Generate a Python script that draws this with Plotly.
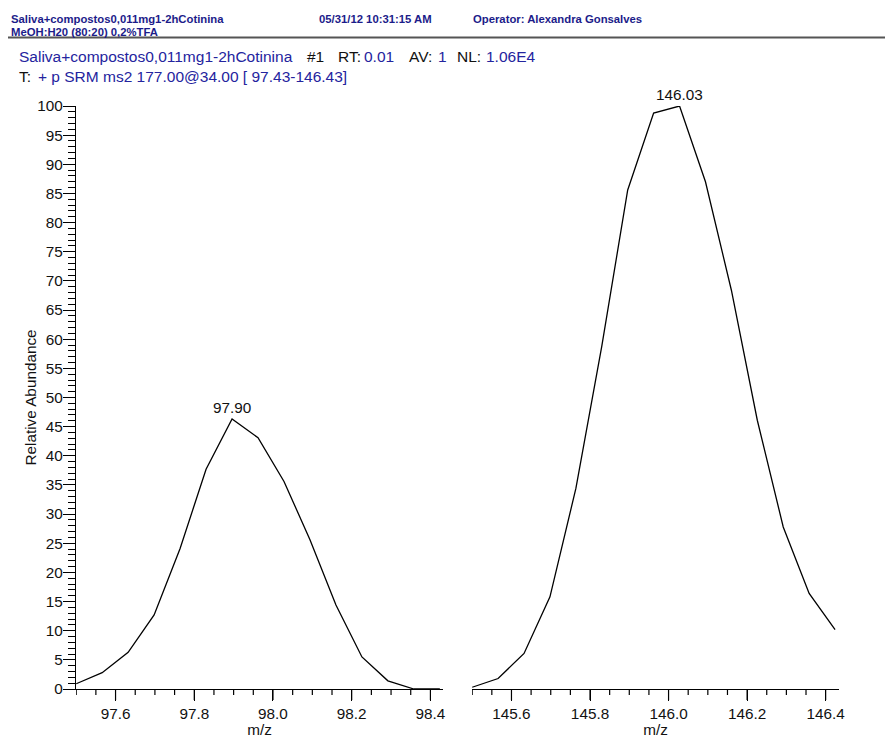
import math
import plotly.graph_objects as go

# Spectrum segment around m/z 97.9
mz_low = [97.500, 97.566, 97.632, 97.698, 97.764, 97.830, 97.896, 97.962,
          98.028, 98.094, 98.160, 98.226, 98.292, 98.358, 98.424]
ab_low = [0.9, 2.8, 6.3, 12.7, 24.1, 37.7, 46.3, 43.1,
          35.6, 25.6, 14.4, 5.5, 1.4, 0.0, 0.0]

# Spectrum segment around m/z 146.0
mz_high = [145.500, 145.566, 145.632, 145.698, 145.764, 145.830, 145.896, 145.962,
           146.028, 146.094, 146.160, 146.226, 146.292, 146.358, 146.424]
ab_high = [0.3, 1.8, 6.1, 15.8, 34.4, 58.8, 85.6, 98.8,
           100.0, 87.0, 68.4, 46.1, 27.8, 16.4, 10.2]

x_range_low = [97.4995, 98.432]
x_range_high = [145.4995, 146.434]

FONT = "Liberation Sans, Arial, sans-serif"
BLUE = "#24249e"
HEAD_BLUE = "#1c1c8a"
INK = "#111111"

W, H = 885, 738
ML, MR, MT, MB = 76, 46, 106, 49
PW, PH = W - ML - MR, H - MT - MB
MAJOR_LEN, MINOR_LEN = 11, 6


def px(x):
    return (x - ML) / PW


def py(y):
    return (H - MB - y) / PH


fig = go.Figure()
fig.add_trace(go.Scatter(x=mz_low, y=ab_low, mode="lines",
                         line=dict(color="black", width=1.3),
                         xaxis="x", yaxis="y", showlegend=False))
fig.add_trace(go.Scatter(x=mz_high, y=ab_high, mode="lines",
                         line=dict(color="black", width=1.3),
                         xaxis="x2", yaxis="y2", showlegend=False))


def xaxis_style(rng, domain, anchor):
    return dict(domain=domain, range=rng, anchor=anchor, automargin=False,
                showgrid=False, zeroline=False, showline=True, linecolor="black",
                linewidth=1.2, ticks="outside", ticklen=MAJOR_LEN, tickwidth=1.2,
                tickcolor="black", dtick=0.2, tick0=0, tickformat=".1f",
                tickfont=dict(family=FONT, size=15.3, color=INK),
                title=dict(text="m/z", font=dict(family=FONT, size=15.3, color=INK),
                           standoff=5))


fig.update_layout(
    width=W, height=H,
    margin=dict(l=ML, r=MR, t=MT, b=MB, pad=0),
    paper_bgcolor="white", plot_bgcolor="white",
    xaxis=xaxis_style(x_range_low, [0, px(443)], "y"),
    xaxis2=xaxis_style(x_range_high, [px(472), 1], "y2"),
    yaxis=dict(domain=[0, 1], range=[0, 100], anchor="x", automargin=False,
               showgrid=False, zeroline=False, showline=True, linecolor="black",
               linewidth=1.2, ticks="outside", ticklen=12, tickwidth=1,
               tickcolor="black", dtick=5, tick0=0, ticklabelstandoff=-3,
               minor=dict(dtick=1, ticklen=7, ticks="outside",
                          tickcolor="black", tickwidth=1),
               tickfont=dict(family=FONT, size=15.3, color=INK)),
    yaxis2=dict(domain=[0, 1], range=[0, 100], anchor="x2", visible=False,
                automargin=False),
)

# Tick comb along each m/z axis: long marks every 0.2, short marks every 0.05
for xref, rng in (("x", x_range_low), ("x2", x_range_high)):
    for k in range(math.ceil(rng[0] / 0.05), math.floor(rng[1] / 0.05) + 1):
        length = MAJOR_LEN if k % 4 == 0 else MINOR_LEN
        v = round(k * 0.05, 3)
        fig.add_shape(type="line", xref=xref, yref="paper", x0=v, x1=v,
                      y0=0, y1=-length / PH, line=dict(color="black", width=1.2))

annotations = []

# Peak labels, taken from the apex of each segment
for xa, ya, mz, ab in (("x", "y", mz_low, ab_low), ("x2", "y2", mz_high, ab_high)):
    i = max(range(len(ab)), key=lambda k: ab[k])
    annotations.append(dict(x=mz[i], y=ab[i], xref=xa, yref=ya, text=f"{mz[i]:.2f}",
                            showarrow=False, xanchor="center", yanchor="bottom",
                            yshift=1, font=dict(family=FONT, size=15.3, color=INK)))

# Y axis title
annotations.append(dict(x=px(30), y=0.5, xref="paper", yref="paper",
                        text="Relative Abundance", textangle=-90, showarrow=False,
                        xanchor="center", yanchor="middle",
                        font=dict(family=FONT, size=15.3, color=INK)))


def label(x, y, text, color, size=15.5, bold=False):
    t = f"<b>{text}</b>" if bold else text
    annotations.append(dict(x=px(x), y=py(y), xref="paper", yref="paper", text=t,
                            showarrow=False, xanchor="left", yanchor="middle",
                            font=dict(family=FONT, size=size, color=color)))


# Report header
label(9, 19, "Saliva+compostos0,011mg1-2hCotinina", HEAD_BLUE, 11.3, True)
label(9, 32, "MeOH:H20 (80:20) 0,2%TFA", HEAD_BLUE, 11.3, True)
label(317, 19, "05/31/12 10:31:15 AM", HEAD_BLUE, 11.3, True)
label(471, 19, "Operator: Alexandra Gonsalves", HEAD_BLUE, 11.3, True)

# Scan description
label(17, 57, "Saliva+compostos0,011mg1-2hCotinina", BLUE)
label(305, 57, "#1", INK)
label(336, 57, "RT:", INK)
label(362, 57, "0.01", BLUE)
label(407, 57, "AV:", INK)
label(436, 57, "1", BLUE)
label(455, 57, "NL:", INK)
label(484, 57, "1.06E4", BLUE)
label(17, 77, "T:", INK)
label(36, 77, "+ p SRM ms2 177.00@34.00 [ 97.43-146.43]", BLUE)

fig.update_layout(annotations=annotations)

# Rule under the header block
fig.add_shape(type="line", xref="paper", yref="paper",
              x0=px(8), x1=px(885), y0=py(37.5), y1=py(37.5),
              line=dict(color="#555555", width=2))

fig.write_html("out.html")
